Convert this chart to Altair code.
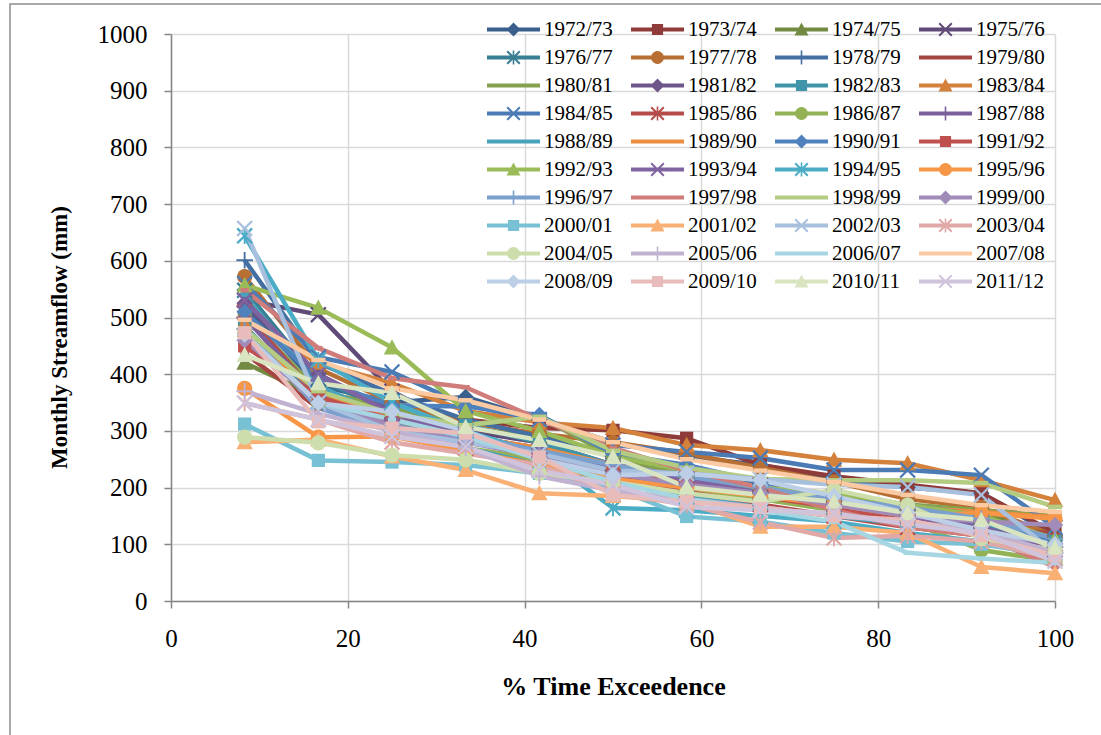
import math
import altair as alt
import pandas as pd

# ---------------- data ----------------
seasons = [
    "1972/73", "1973/74", "1974/75", "1975/76", "1976/77", "1977/78", "1978/79", "1979/80",
    "1980/81", "1981/82", "1982/83", "1983/84", "1984/85", "1985/86", "1986/87", "1987/88",
    "1988/89", "1989/90", "1990/91", "1991/92", "1992/93", "1993/94", "1994/95", "1995/96",
    "1996/97", "1997/98", "1998/99", "1999/00", "2000/01", "2001/02", "2002/03", "2003/04",
    "2004/05", "2005/06", "2006/07", "2007/08", "2008/09", "2009/10", "2010/11", "2011/12",
]
exceedance_pct = [8.33, 16.67, 25.0, 33.33, 41.67, 50.0, 58.33, 66.67, 75.0, 83.33, 91.67, 100.0]

q_1972_73 = [520, 380, 350, 360, 320, 280, 255, 240, 215, 200, 190, 115]
q_1973_74 = [480, 370, 340, 320, 305, 301, 287, 240, 220, 205, 190, 120]
q_1974_75 = [420, 360, 330, 305, 290, 260, 230, 195, 180, 165, 160, 100]
q_1975_76 = [531, 505, 370, 300, 280, 240, 225, 205, 185, 165, 150, 100]
q_1976_77 = [548, 390, 335, 295, 265, 230, 205, 180, 165, 150, 140, 95]
q_1977_78 = [572, 410, 350, 315, 295, 280, 260, 235, 210, 180, 165, 115]
q_1978_79 = [601, 420, 365, 320, 290, 255, 225, 205, 185, 160, 140, 85]
q_1979_80 = [437, 340, 320, 285, 255, 235, 210, 180, 165, 145, 125, 120]
q_1980_81 = [506, 370, 340, 310, 325, 255, 220, 200, 180, 170, 160, 150]
q_1981_82 = [525, 400, 335, 290, 270, 240, 215, 195, 175, 150, 130, 100]
q_1982_83 = [485, 350, 330, 310, 280, 240, 210, 195, 170, 150, 135, 105]
q_1983_84 = [490, 420, 384, 335, 315, 305, 275, 266, 249, 243, 213, 178]
q_1984_85 = [560, 430, 404, 345, 320, 275, 263, 252, 231, 231, 222, 130]
q_1985_86 = [510, 360, 310, 270, 240, 220, 195, 170, 150, 130, 115, 75]
q_1986_87 = [470, 350, 300, 270, 250, 230, 200, 180, 160, 140, 90, 70]
q_1987_88 = [500, 360, 320, 290, 260, 230, 210, 190, 170, 150, 130, 95]
q_1988_89 = [540, 380, 320, 270, 240, 210, 185, 165, 150, 135, 120, 85]
q_1989_90 = [470, 370, 320, 290, 270, 240, 220, 200, 180, 165, 157, 148]
q_1990_91 = [510, 390, 345, 343, 328, 260, 240, 210, 185, 170, 150, 100]
q_1991_92 = [450, 360, 320, 290, 260, 230, 210, 185, 165, 140, 125, 90]
q_1992_93 = [557, 517, 447, 335, 300, 255, 230, 200, 190, 170, 150, 110]
q_1993_94 = [530, 400, 330, 290, 265, 235, 215, 190, 170, 150, 130, 90]
q_1994_95 = [644, 425, 350, 300, 260, 164, 160, 150, 140, 120, 105, 75]
q_1995_96 = [375, 289, 290, 265, 240, 215, 200, 185, 170, 150, 155, 145]
q_1996_97 = [480, 340, 300, 290, 265, 240, 220, 200, 180, 165, 145, 110]
q_1997_98 = [548, 446, 393, 377, 320, 270, 230, 200, 160, 130, 115, 60]
q_1998_99 = [480, 370, 330, 310, 325, 265, 235, 215, 213, 213, 208, 166]
q_1999_00 = [460, 350, 310, 280, 255, 225, 205, 190, 170, 150, 140, 134]
q_2000_01 = [312, 248, 245, 240, 225, 200, 149, 140, 120, 105, 100, 80]
q_2001_02 = [280, 285, 255, 231, 190, 185, 175, 131, 131, 120, 60, 49]
q_2002_03 = [657, 350, 300, 280, 260, 230, 225, 215, 205, 201, 187, 85]
q_2003_04 = [349, 320, 280, 260, 240, 190, 170, 139, 111, 115, 105, 75]
q_2004_05 = [289, 279, 257, 249, 225, 210, 190, 175, 196, 169, 110, 90]
q_2005_06 = [370, 330, 300, 270, 220, 195, 180, 165, 150, 140, 125, 85]
q_2006_07 = [470, 350, 320, 290, 250, 210, 180, 160, 140, 85, 75, 67]
q_2007_08 = [496, 425, 375, 354, 320, 280, 250, 230, 210, 187, 169, 157]
q_2008_09 = [470, 349, 334, 300, 250, 222, 225, 213, 185, 155, 125, 100]
q_2009_10 = [473, 316, 305, 296, 254, 187, 175, 165, 150, 143, 115, 80]
q_2010_11 = [434, 384, 367, 307, 284, 254, 201, 187, 175, 155, 143, 94]
q_2011_12 = [349, 320, 290, 272, 230, 205, 166, 160, 155, 135, 120, 70]

flows = [
    q_1972_73, q_1973_74, q_1974_75, q_1975_76, q_1976_77, q_1977_78, q_1978_79, q_1979_80,
    q_1980_81, q_1981_82, q_1982_83, q_1983_84, q_1984_85, q_1985_86, q_1986_87, q_1987_88,
    q_1988_89, q_1989_90, q_1990_91, q_1991_92, q_1992_93, q_1993_94, q_1994_95, q_1995_96,
    q_1996_97, q_1997_98, q_1998_99, q_1999_00, q_2000_01, q_2001_02, q_2002_03, q_2003_04,
    q_2004_05, q_2005_06, q_2006_07, q_2007_08, q_2008_09, q_2009_10, q_2010_11, q_2011_12,
]

rows = []
for s, vals in zip(seasons, flows):
    for xv, v in zip(exceedance_pct, vals):
        rows.append({"season": s, "pct": xv, "flow": v})
df = pd.DataFrame(rows)

# ---------------- styles ----------------
ACCENTS = ["#4F81BD", "#C0504D", "#9BBB59", "#8064A2", "#4BACC6", "#F79646"]
VARIANTS = [("shade", 0.74), ("shade", 0.86), ("shade", 0.95), ("shade", 1.0),
            ("tint", 0.25), ("tint", 0.5), ("tint", 0.62)]


def variant(hexc, kind, f):
    r, g, b = (int(hexc[i:i + 2], 16) for i in (1, 3, 5))
    if kind == "shade":
        c = [round(v * f) for v in (r, g, b)]
    else:
        c = [round(v + (255 - v) * f) for v in (r, g, b)]
    return "#" + "".join(f"{v:02X}" for v in c)


colors = [variant(ACCENTS[i % 6], *VARIANTS[i // 6]) for i in range(len(seasons))]

# marker polygons in a [-1, 1] box, all with the same winding
a, w = 0.9, 0.14
d = w / math.sqrt(2)
X1 = [(-a - d, -a + d), (-a + d, -a - d), (a + d, a - d), (a - d, a + d)]
X2 = [(-y, x) for x, y in X1]
VB = [(-w * 0.8, -1), (w * 0.8, -1), (w * 0.8, 1), (-w * 0.8, 1)]
HB = [(-1, -w * 0.8), (1, -w * 0.8), (1, w * 0.8), (-1, w * 0.8)]
CIRC = [(0.92 * math.cos(2 * math.pi * k / 24), 0.92 * math.sin(2 * math.pi * k / 24)) for k in range(24)]
MARKERS = {
    "diamond": [[(0, -1), (1, 0), (0, 1), (-1, 0)]],
    "square": [[(-0.8, -0.8), (0.8, -0.8), (0.8, 0.8), (-0.8, 0.8)]],
    "triangle": [[(0, -1), (1, 0.85), (-1, 0.85)]],
    "x": [X1, X2],
    "star": [X1, X2, VB],
    "circle": [CIRC],
    "plus": [VB, HB],
    "shortdash": [[(-0.5, -0.27), (0.5, -0.27), (0.5, 0.27), (-0.5, 0.27)]],
    "dash": [[(-0.85, -0.27), (0.85, -0.27), (0.85, 0.27), (-0.85, 0.27)]],
}
MARKER_CYCLE = ["diamond", "square", "triangle", "x", "star", "circle", "plus", "shortdash", "dash"]


def path(polys, s=1.0):
    out = []
    for p in polys:
        out.append("M" + "L".join(f"{x * s:.3f},{y * s:.3f}" for x, y in p) + "Z")
    return "".join(out)


MARKER_PX = 16.5
LEG_SYM_PX = 53.0
LINE_W = 4.5
point_shapes = [path(MARKERS[MARKER_CYCLE[i % 9]]) for i in range(len(seasons))]
lt = (4.0 / 2) / (LEG_SYM_PX / 2)
leg_line = [(-1, -lt), (1, -lt), (1, lt), (-1, lt)]
ms = (14.0 / 2) / (LEG_SYM_PX / 2)
legend_shapes = [path([leg_line]) + path(MARKERS[MARKER_CYCLE[i % 9]], ms) for i in range(len(seasons))]

FONT = "Liberation Serif"
AX_GRAY = "#868686"

x_enc = alt.X("pct:Q", scale=alt.Scale(domain=[0, 100], nice=False, zero=True),
              axis=alt.Axis(values=[0, 20, 40, 60, 80, 100], format="d", title="% Time Exceedence",
                            titleFont=FONT, titleFontSize=26, titleFontWeight="bold", titleColor="black",
                            titlePadding=22, labelFont=FONT, labelFontSize=25, labelColor="black",
                            labelPadding=18, tickSize=7, tickColor=AX_GRAY, tickWidth=1.5,
                            domainColor=AX_GRAY, domainWidth=1.5, grid=True, gridColor="#D9D9D9",
                            gridWidth=1.5, labelFlush=False))
y_enc = alt.Y("flow:Q", scale=alt.Scale(domain=[0, 1000], nice=False),
              axis=alt.Axis(values=list(range(0, 1001, 100)), format="d",
                            title="Monthly Streamflow (mm)",
                            titleFont=FONT, titleFontSize=23, titleFontWeight="bold", titleColor="black",
                            titleX=-112, titleY=303, titleBaseline="middle", titleAngle=270,
                            labelFont=FONT, labelFontSize=25, labelColor="black", labelPadding=17,
                            tickSize=7, tickColor=AX_GRAY, tickWidth=1.5, domainColor=AX_GRAY,
                            domainWidth=1.5, grid=True, gridColor="#D9D9D9", gridWidth=1.5))

color_scale = alt.Scale(domain=seasons, range=colors)

base = alt.Chart(df)

lines = base.mark_line(strokeWidth=LINE_W, strokeJoin="round").encode(
    x=x_enc, y=y_enc,
    color=alt.Color("season:N", scale=color_scale, legend=None),
    order=alt.Order("pct:Q"),
)

points = base.mark_point(filled=True, size=MARKER_PX ** 2, opacity=1, strokeWidth=0).encode(
    x=x_enc, y=y_enc,
    color=alt.Color("season:N", scale=color_scale, legend=None),
    shape=alt.Shape("season:N", scale=alt.Scale(domain=seasons, range=point_shapes), legend=None),
)

leg = alt.Legend(title=None, orient="none", direction="horizontal", legendX=316, legendY=-15,
                 columns=4, symbolLimit=40, symbolSize=LEG_SYM_PX ** 2, clipHeight=21,
                 labelFont=FONT, labelFontSize=21, labelColor="black", labelOffset=4,
                 rowPadding=6, columnPadding=18, symbolStrokeWidth=0, gridAlign="all",
                 padding=0, labelLimit=200, symbolOpacity=1)

legend_layer = base.transform_filter("false").mark_point(filled=True, opacity=1, strokeWidth=0).encode(
    color=alt.Color("season:N", scale=alt.Scale(domain=seasons, range=colors), legend=leg),
    shape=alt.Shape("season:N", scale=alt.Scale(domain=seasons, range=legend_shapes), legend=leg),
)

frame = alt.Chart(pd.DataFrame({"k": [0]})).mark_rect(
    fillOpacity=0, stroke="#8C8C8C", strokeWidth=1.5
).encode(x=alt.value(-161), x2=alt.value(940), y=alt.value(-30), y2=alt.value(720))

chart = alt.layer(frame, lines, points, legend_layer).resolve_scale(
    color="independent", shape="independent"
).properties(
    width=884, height=567, autosize="none",
    padding={"left": 171, "top": 34, "right": 46, "bottom": 134},
    background="white",
).configure_view(stroke=None)

chart.save("out.html", embed_options={"renderer": "svg", "actions": False})
